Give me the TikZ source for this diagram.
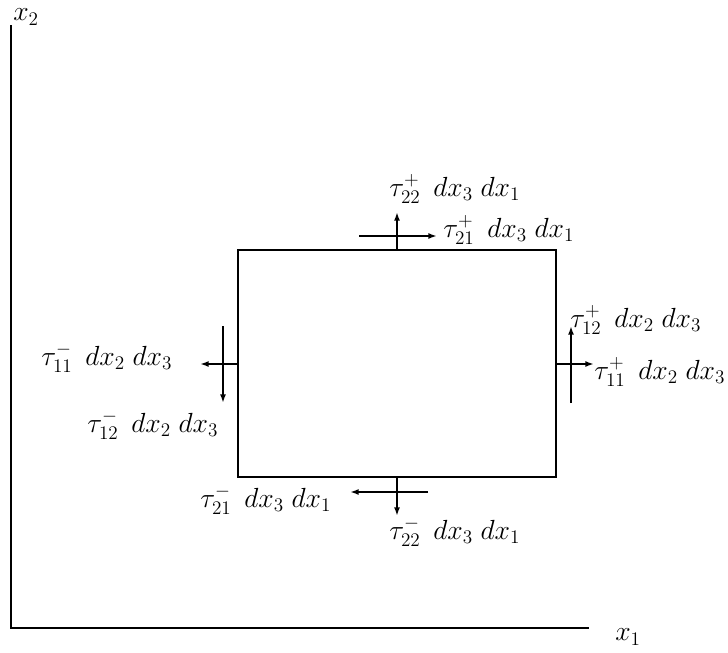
\documentclass[tikz,border=0pt]{standalone}
\usepackage{amsmath, amssymb}
\usepackage{tikz}
\usetikzlibrary{arrows.meta}

\begin{document}
\begin{tikzpicture}[x=0.75pt, y=-0.75pt,
    stress/.style={line width=1.4pt, -{Latex[length=6.5pt, width=4.5pt]}},
    lbl/.style={anchor=west, inner sep=0pt, font=\fontsize{20.5}{24}\selectfont}]
    \useasboundingbox (0, 0) rectangle (728, 653);

    % axes
    \coordinate (O) at (11, 628);
    \coordinate (X1) at (589, 628);
    \coordinate (X2) at (11, 25);
    \draw[line width=1.8pt] (X2) -- (O) -- (X1);
    \node[lbl] at (615, 637) (x1) {$x_1$};
    \node[lbl] at (13, 17) (x2) {$x_2$};

    % element
    \coordinate (A) at (238, 250);
    \coordinate (B) at (556, 250);
    \coordinate (C) at (556, 477);
    \coordinate (D) at (238, 477);
    \draw[line width=1.8pt] (A) -- (B) -- (C) -- (D) -- cycle;

    % top face
    \coordinate (t0) at (397, 250);
    \coordinate (t1) at (397, 212);
    \coordinate (t2) at (359, 236);
    \coordinate (t3) at (437, 236);
    \draw[stress] (t0) -- (t1);
    \draw[stress] (t2) -- (t3);
    \node[lbl] at (389, 189) (s22p) {$\tau_{22}^{+}\ \,dx_3\;dx_1$};
    \node[lbl] at (443, 230) (s21p) {$\tau_{21}^{+}\ \,dx_3\;dx_1$};

    % bottom face
    \coordinate (b0) at (397, 477);
    \coordinate (b1) at (397, 516);
    \coordinate (b2) at (428, 492);
    \coordinate (b3) at (350, 492);
    \draw[stress] (b0) -- (b1);
    \draw[stress] (b2) -- (b3);
    \node[lbl] at (200, 500) (s21m) {$\tau_{21}^{-}\ \,dx_3\;dx_1$};
    \node[lbl] at (389, 532) (s22m) {$\tau_{22}^{-}\ \,dx_3\;dx_1$};

    % left face
    \coordinate (l0) at (238, 364);
    \coordinate (l1) at (200, 364);
    \coordinate (l2) at (223, 326);
    \coordinate (l3) at (223, 403);
    \draw[stress] (l0) -- (l1);
    \draw[stress] (l2) -- (l3);
    \node[lbl] at (41, 358) (s11m) {$\tau_{11}^{-}\ \,dx_2\;dx_3$};
    \node[lbl] at (87, 425) (s12m) {$\tau_{12}^{-}\ \,dx_2\;dx_3$};

    % right face
    \coordinate (r0) at (556, 364);
    \coordinate (r1) at (594, 364);
    \coordinate (r2) at (571, 403);
    \coordinate (r3) at (571, 326);
    \draw[stress] (r0) -- (r1);
    \draw[stress] (r2) -- (r3);
    \node[lbl] at (570, 320) (s12p) {$\tau_{12}^{+}\ \,dx_2\;dx_3$};
    \node[lbl] at (594, 372) (s11p) {$\tau_{11}^{+}\ \,dx_2\;dx_3$};
\end{tikzpicture}
\end{document}
